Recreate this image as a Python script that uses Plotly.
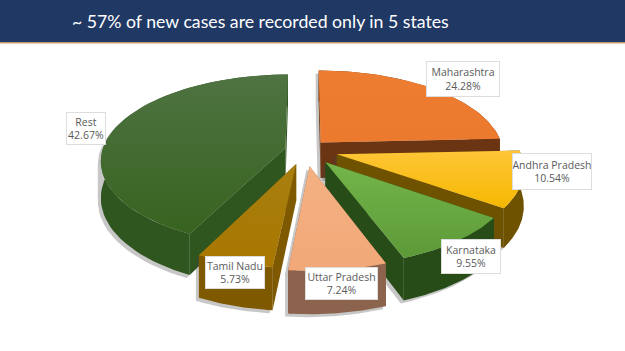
import numpy as np
import plotly.graph_objects as go

# ---- data ----
states = ["Maharashtra", "Andhra Pradesh", "Karnataka", "Uttar Pradesh", "Tamil Nadu", "Rest"]
shares = [24.28, 10.54, 9.55, 7.24, 5.73, 42.67]
pulls = [0.125, 0.18, 0.18, 0.19, 0.17, 0.11]
title = "~ 57% of new cases are recorded only in 5 states"

# ---- styles ----
top_colors = [("#ed7d31", "#ec7a2e"), ("#ffc537", "#f5b800"), ("#74b54a", "#5c9a38"),
              ("#f4b183", "#f2a878"), ("#a87f10", "#a87700"), ("#4f7342", "#37631f")]
wall_colors = ["#6b3412", "#6f5200", "#274c18", "#8c634c", "#7f5900", "#30561f"]
label_centres = [(463, 79), (552, 171), (471, 256), (341, 283.5), (235, 272), (86, 128)]
label_sizes = [(72, 34), (78, 35), (58, 33), (71, 31), (58, 31), (38, 31)]

# ---- projection of the tilted, exploded pie ----
CX, CY, RX, RY, PERSP, DEPTH = 305, 150, 183, 84.4, 0.143, 36


def project(px, py, drop=0.0):
    s = 1 / (1 + PERSP * py)
    return CX + RX * px * s, CY - RY * py * s + drop * DEPTH * s


def hull(points):
    pts = sorted(set(points))
    def half(seq):
        out = []
        for p in seq:
            while len(out) > 1 and ((out[-1][0] - out[-2][0]) * (p[1] - out[-2][1])
                                    - (out[-1][1] - out[-2][1]) * (p[0] - out[-2][0])) <= 0:
                out.pop()
            out.append(p)
        return out[:-1]
    return half(pts) + half(pts[::-1])


fractions = np.array(shares) / sum(shares)
ends = np.cumsum(fractions) * 2 * np.pi
starts = ends - fractions * 2 * np.pi
wedges = []
for i in range(len(states)):
    mid = (starts[i] + ends[i]) / 2
    ax, ay = pulls[i] * np.sin(mid), pulls[i] * np.cos(mid)
    th = np.linspace(starts[i], ends[i], 60)
    wedges.append(dict(ax=ax, ay=ay, rx=ax + np.sin(th), ry=ay + np.cos(th)))

fig = go.Figure()


def poly(xs, ys, name, color=None, grad=None, gtype="vertical"):
    kw = dict(x=list(xs) + [xs[0]], y=list(ys) + [ys[0]], mode="lines", fill="toself",
              line=dict(width=0), name=name, hoverinfo="name", showlegend=False)
    if grad:
        span = xs if gtype == "horizontal" else ys
        kw["fillgradient"] = dict(type=gtype, start=min(span), stop=max(span),
                                  colorscale=[[0, grad[0]], [1, grad[1]]])
    else:
        kw["fillcolor"] = color
    fig.add_trace(go.Scatter(**kw))


# painter's order: back pieces first
for i in [0, 5, 1, 4, 2, 3]:
    w = wedges[i]
    name = f"{states[i]} {shares[i]:.2f}%"
    tx, ty = project(np.r_[w["ax"], w["rx"]], np.r_[w["ay"], w["ry"]])
    bx, by = project(np.r_[w["ax"], w["rx"]], np.r_[w["ay"], w["ry"]], 1.0)
    # soft ground shadow
    h = hull(list(zip(tx.tolist(), ty.tolist())) + list(zip(bx.tolist(), by.tolist())))
    poly([p[0] - 3 for p in h], [p[1] + 3 for p in h], name, color="rgba(70,70,70,0.30)")
    # walls
    poly(np.r_[tx[1:], bx[1:][::-1]], np.r_[ty[1:], by[1:][::-1]], name, color=wall_colors[i])
    for j in (1, -1):
        poly([tx[0], tx[j], bx[j], bx[0]], [ty[0], ty[j], by[j], by[0]], name, color=wall_colors[i])
    # top face
    poly(tx, ty, name, grad=top_colors[i])

annotations = [dict(xref="x", yref="y", x=260, y=21, text=title, showarrow=False,
                    font=dict(family="Lato", size=17.7, color="white"))]
for i, s in enumerate(states):
    annotations.append(dict(xref="x", yref="y", x=label_centres[i][0], y=label_centres[i][1],
                            text=f"{s}<br>{shares[i]:.2f}%", showarrow=False, align="center",
                            width=label_sizes[i][0], height=label_sizes[i][1],
                            bgcolor="white", bordercolor="#dddddd", borderwidth=1, borderpad=0,
                            font=dict(family="Open Sans", size=10.5, color="#5a5a5a")))

fig.update_layout(
    width=625, height=351, margin=dict(l=0, r=0, t=0, b=0),
    paper_bgcolor="white", plot_bgcolor="white",
    xaxis=dict(range=[0, 625], visible=False, fixedrange=True),
    yaxis=dict(range=[351, 0], visible=False, fixedrange=True),
    shapes=[
        dict(type="rect", xref="x", yref="y", x0=0, x1=625, y0=0, y1=42,
             fillcolor="#1f3864", line_width=0, layer="below"),
        dict(type="rect", xref="x", yref="y", x0=0, x1=625, y0=42, y1=43.5,
             fillcolor="#c79a6c", line_width=0, layer="below"),
    ],
    annotations=annotations,
)
fig.write_html("out.html", config={"displayModeBar": False},
               post_script="document.body.style.margin='0';document.documentElement.style.overflow='hidden';")
